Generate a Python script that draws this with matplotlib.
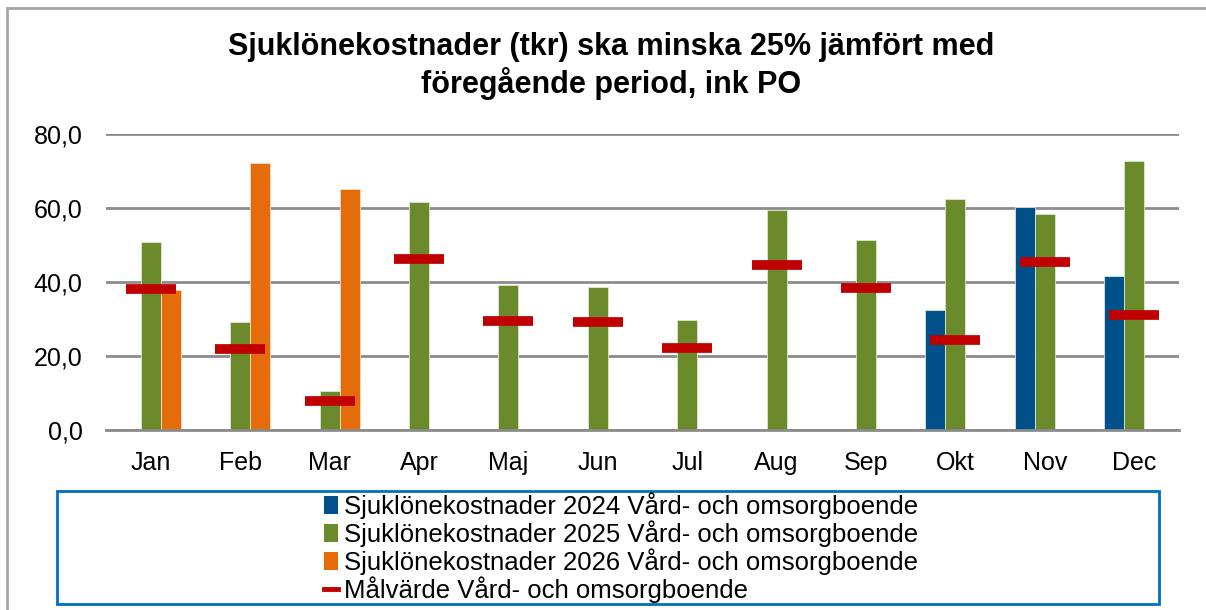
import matplotlib
matplotlib.use("Agg")
import matplotlib.pyplot as plt
import numpy as np
from matplotlib.patches import Rectangle, Patch
from matplotlib.lines import Line2D

plt.rcParams['font.family'] = ['Liberation Sans', 'DejaVu Sans']

# data
manader = ['Jan', 'Feb', 'Mar', 'Apr', 'Maj', 'Jun', 'Jul', 'Aug', 'Sep', 'Okt', 'Nov', 'Dec']
kost_2024 = [0, 0, 0, 0, 0, 0, 0, 0, 0, 32.4, 60.4, 41.7]
kost_2025 = [50.9, 29.1, 10.6, 61.5, 39.2, 38.6, 29.6, 59.4, 51.3, 62.5, 58.4, 72.8]
kost_2026 = [37.9, 72.1, 65.2, 0, 0, 0, 0, 0, 0, 0, 0, 0]
malvarde = [38.0, 21.9, 7.9, 46.1, 29.4, 29.1, 22.2, 44.5, 38.3, 24.3, 45.5, 31.1]

namn = ['Sjuklönekostnader 2024 Vård- och omsorgboende',
        'Sjuklönekostnader 2025 Vård- och omsorgboende',
        'Sjuklönekostnader 2026 Vård- och omsorgboende',
        'Målvärde Vård- och omsorgboende']

bla = '#00508a'
gron = '#6b8a2c'
orange = '#e46c0a'
rod = '#c00000'
grid = '#8c8c8c'

fig = plt.figure(figsize=(12.06, 6.10), dpi=100)
ax = fig.add_axes([106/1206, 1-430/610, (1179-106)/1206, (430-134)/610])

x = np.arange(len(manader))
w = 0.2235
ax.bar(x - w, kost_2024, w, color=bla, edgecolor='#d9e4ee', linewidth=0.6, zorder=3)
ax.bar(x, kost_2025, w, color=gron, edgecolor='#dde6cc', linewidth=0.6, zorder=3)
ax.bar(x + w, kost_2026, w, color=orange, edgecolor='#f8dcc4', linewidth=0.6, zorder=3)
ax.plot(x, malvarde, linestyle='none', marker='_', markersize=36, markeredgewidth=7,
        color=rod, zorder=4)

ax.set_xlim(-0.5, 11.5)
ax.set_ylim(0, 80)
ax.set_yticks([0, 20, 40, 60, 80])
ax.set_yticklabels(['0,0', '20,0', '40,0', '60,0', '80,0'])
ax.set_xticks(x)
ax.set_xticklabels(manader)
ax.tick_params(axis='both', length=0, labelsize=18, colors='black')
ax.tick_params(axis='y', pad=17)
ax.tick_params(axis='x', pad=15)
ax.yaxis.grid(True, color=grid, linewidth=2, zorder=0)
ax.set_axisbelow(True)
for s in ['top', 'right', 'left']:
    ax.spines[s].set_visible(False)
ax.spines['bottom'].set_color(grid)
ax.spines['bottom'].set_linewidth(2)
ax.spines['bottom'].set_zorder(5)

# title
fig.text(611/1206, 1-66/610, 'Sjuklönekostnader (tkr) ska minska 25% jämfört med\nföregående period, ink PO',
         ha='center', va='center', fontsize=22, fontweight='bold', linespacing=1.2)

# outer frame (top and left edges only visible)
fig.patches.append(Rectangle((7/1206, -0.02), 1.1, 1-8/610 + 0.02,
                             transform=fig.transFigure, fill=False, edgecolor='#a6a6a6', linewidth=2))

# legend box
fig.patches.append(Rectangle((57/1206, 1-604/610), (1159-57)/1206, (604-491)/610,
                             transform=fig.transFigure, fill=False, edgecolor='#0070c0', linewidth=2))

handles = [Patch(facecolor=bla), Patch(facecolor=gron), Patch(facecolor=orange),
           Line2D([], [], color=rod, linewidth=3.5)]
fig.legend(handles, namn, loc='center left', bbox_to_anchor=(311/1206, 1-548/610),
           frameon=False, fontsize=18.5, handlelength=0.55, handleheight=0.7,
           handletextpad=0.25, labelspacing=0.05, borderpad=0)

fig.savefig('out.png', dpi=100)
